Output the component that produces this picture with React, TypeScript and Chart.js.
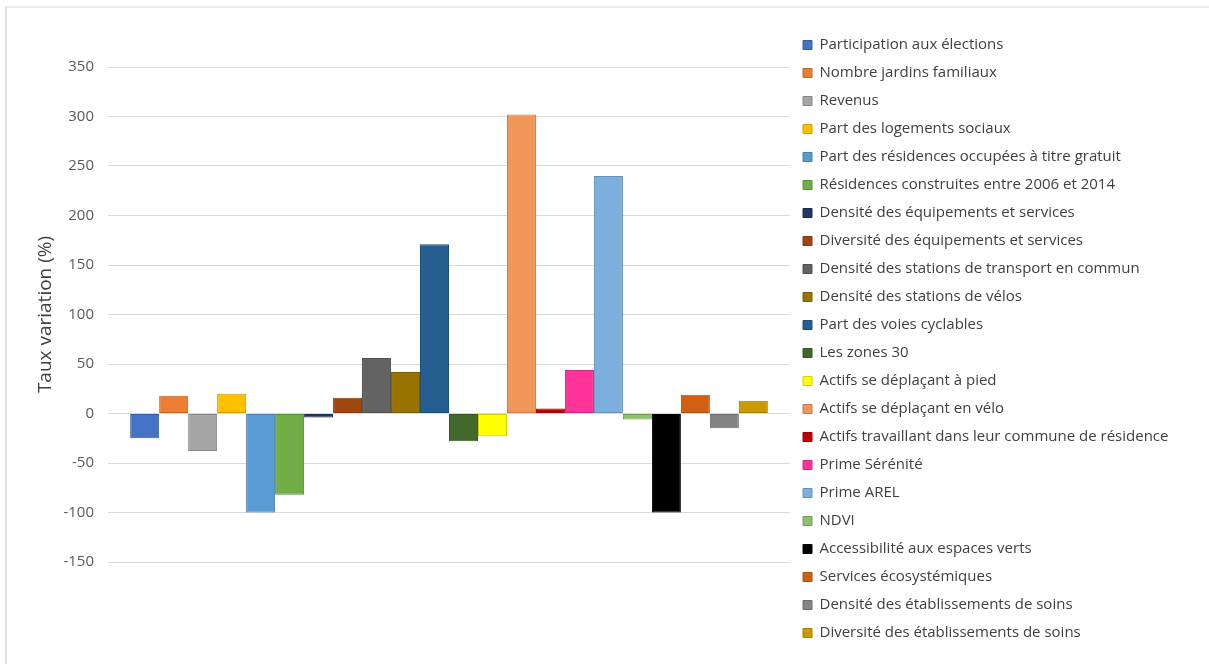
import React, { useEffect, useRef } from "react";
import { Chart, registerables } from "chart.js";

Chart.register(...registerables);

const categories: string[] = [""];

const seriesNames: string[] = [
  "Participation aux élections",
  "Nombre jardins familiaux",
  "Revenus",
  "Part des logements sociaux",
  "Part des résidences occupées à titre gratuit",
  "Résidences construites entre 2006 et 2014",
  "Densité des équipements et services",
  "Diversité des équipements et services",
  "Densité des stations de transport en commun",
  "Densité des stations de vélos",
  "Part des voies cyclables",
  "Les zones 30",
  "Actifs se déplaçant à pied",
  "Actifs se déplaçant en vélo",
  "Actifs travaillant dans leur commune de résidence",
  "Prime Sérénité",
  "Prime AREL",
  "NDVI",
  "Accessibilité aux espaces verts",
  "Services écosystémiques",
  "Densité des établissements de soins",
  "Diversité des établissements de soins",
];

const seriesValues: number[] = [
  -25, 18, -38, 20, -100, -82, -4, 16, 56, 42, 171, -28, -23, 302, 5, 44, 240, -6, -100, 19, -15, 13,
];

const seriesColors: string[] = [
  "#4472C4",
  "#ED7D31",
  "#A5A5A5",
  "#FFC000",
  "#5B9BD5",
  "#70AD47",
  "#1F3864",
  "#9E480E",
  "#636363",
  "#997300",
  "#255E91",
  "#43682B",
  "#FFFF00",
  "#F1975A",
  "#C00000",
  "#FF3399",
  "#7CAFDD",
  "#8CC168",
  "#000000",
  "#D26012",
  "#848484",
  "#CC9900",
];

const yMin = -150;
const yMax = 350;
const yStep = 50;
const yTitle = "Taux variation (%)";

const FONT = "'Open Sans'";
const LEGEND_SIZE = 15;

function darken(hex: string, f = 0.82): string {
  const n = parseInt(hex.slice(1), 16);
  const r = Math.round(((n >> 16) & 255) * f);
  const g = Math.round(((n >> 8) & 255) * f);
  const b = Math.round((n & 255) * f);
  return `rgb(${r},${g},${b})`;
}

export default function App() {
  const ref = useRef<HTMLCanvasElement>(null);

  useEffect(() => {
    let chart: Chart | null = null;
    let cancelled = false;

    const build = () => {
      if (cancelled || !ref.current) return;
      const mctx = document.createElement("canvas").getContext("2d")!;
      mctx.font = `${LEGEND_SIZE}px ${FONT}`;
      const textW = Math.max(...seriesNames.map((n) => mctx.measureText(n).width));
      // legend.left should land at x=790: width = pad + box + size/2 + text + 10
      const legendW = 13 + 9 + LEGEND_SIZE / 2 + textW + 10;
      const padR = Math.max(0, 1209 - 790 - legendW);

      chart = new Chart(ref.current, {
        type: "bar",
        data: {
          labels: categories,
          datasets: seriesNames.map((name, i) => ({
            label: name,
            data: [seriesValues[i]],
            backgroundColor: seriesColors[i],
            borderColor: darken(seriesColors[i]),
            borderWidth: 1,
            borderSkipped: false,
            categoryPercentage: 0.935,
            barPercentage: 1,
            xAxisID: "x",
            yAxisID: "y",
          })),
        },
        options: {
          animation: false,
          responsive: false,
          maintainAspectRatio: false,
          layout: { padding: { top: 24.5, bottom: 5, left: 0, right: padR } },
          plugins: {
            tooltip: { enabled: false },
            legend: {
              position: "right",
              align: "start",
              maxWidth: 600,
              labels: {
                boxWidth: 9,
                boxHeight: 9,
                padding: 13,
                color: "#404040",
                font: { family: FONT, size: LEGEND_SIZE },
              },
            },
          },
          scales: {
            xTop: {
              type: "category",
              position: "top",
              display: true,
              grid: { display: false },
              ticks: { display: false },
              border: { display: false },
              afterFit: (s: any) => {
                s.height = 42.5;
              },
            },
            x: {
              type: "category",
              position: "bottom",
              grid: { display: false },
              ticks: { display: false },
              border: { display: false },
              afterFit: (s: any) => {
                s.height = 97;
              },
            },
            y: {
              min: yMin,
              max: yMax,
              ticks: {
                stepSize: yStep,
                color: "#595959",
                font: { family: FONT, size: 15 },
                padding: 14,
              },
              grid: { color: "#d9d9d9", drawTicks: false, lineWidth: 1 },
              border: { display: false },
              title: {
                display: true,
                text: yTitle,
                color: "#404040",
                font: { family: FONT, size: 19 },
                padding: { top: 34, bottom: 0 },
              },
              afterFit: (s: any) => {
                s.width = 108;
              },
            },
          },
        },
      } as any);
    };

    const fonts: any = (document as any).fonts;
    if (fonts && fonts.load) {
      Promise.all([
        fonts.load(`${LEGEND_SIZE}px ${FONT}`),
        fonts.load(`19px ${FONT}`),
      ])
        .catch(() => null)
        .then(() => build());
    } else {
      build();
    }

    return () => {
      cancelled = true;
      if (chart) chart.destroy();
    };
  }, []);

  return (
    <div style={{ position: "fixed", left: 0, top: 0, width: 1209, height: 664, background: "#fff" }}>
      <div
        style={{
          position: "absolute",
          left: 5,
          top: 6,
          width: 1300,
          height: 700,
          borderLeft: "2px solid #e2e2e2",
          borderTop: "2px solid #ededed",
        }}
      />
      <canvas ref={ref} width={1209} height={664} style={{ position: "absolute", left: 0, top: 0 }} />
    </div>
  );
}
